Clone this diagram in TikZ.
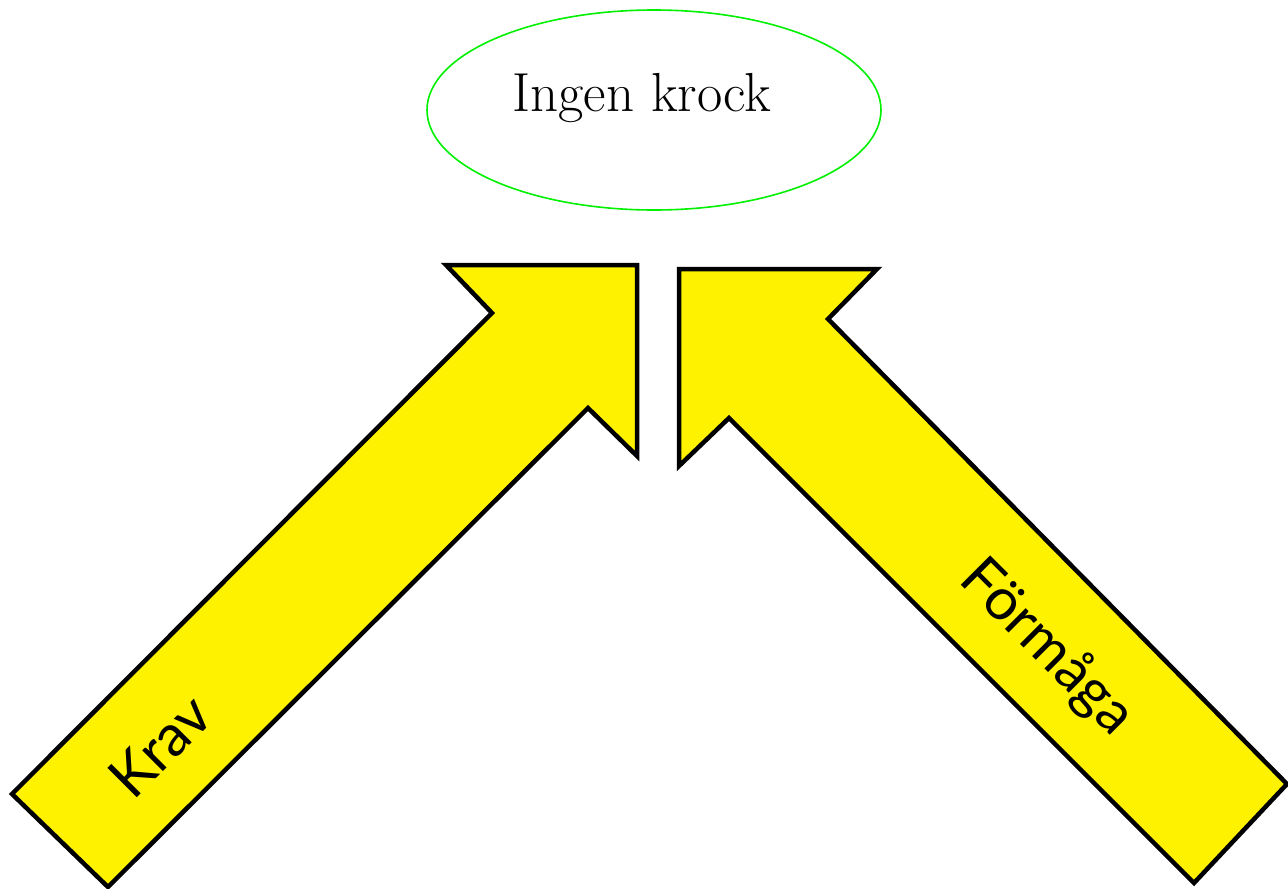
\documentclass[tikz,border=0pt]{standalone}
\usepackage{fontspec}
\usetikzlibrary{shapes.geometric}
\newfontfamily\labelfont{Lato}
\definecolor{arrowyellow}{RGB}{255,242,0}
\definecolor{ellgreen}{RGB}{0,240,0}
\tikzset{
  bigarrow/.style={draw=black, fill=arrowyellow, line width=4.5pt, line join=miter},
  arrowlabel/.style={font=\labelfont\fontsize{58}{68}\selectfont, inner sep=0pt},
}
\begin{document}
\begin{tikzpicture}[x=1pt,y=-1pt]
\useasboundingbox (0,0) rectangle (1288,889);
% ellipse
\node[draw=ellgreen, line width=1.6pt, ellipse, minimum width=454pt, minimum height=200pt, inner sep=0pt] (goal) at (654,110) {};
\node[font=\fontsize{55}{66}\selectfont, inner sep=0pt] (goaltext) at (642,98) {Ingen krock};
% left arrow
\draw[bigarrow] (12,794) -- (108,887) -- (588,408) -- (637,456) -- (637,265) -- (446,265) -- (492,313) -- cycle;
% right arrow
\draw[bigarrow] (1194,883) -- (1287,784) -- (828,319) -- (877,269) -- (679,269) -- (679,466) -- (729,418) -- cycle;
\node[arrowlabel, rotate=45] (krav) at (160,746) {Krav};
\node[arrowlabel, rotate=-45] (formaga) at (1047,648) {Förmåga};
\end{tikzpicture}
\end{document}
